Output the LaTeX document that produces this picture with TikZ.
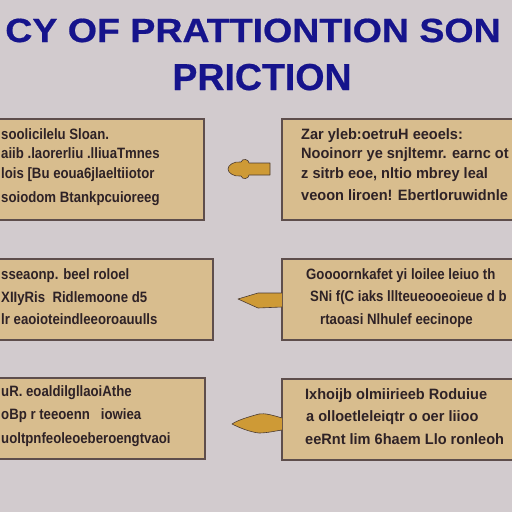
\documentclass[tikz,border=0pt]{standalone}
\usepackage{fontspec}
\setmainfont{Liberation Sans}
\newfontfamily\titlefont{Liberation Sans Bold}[FakeBold=0.6]
\newfontfamily\boxfont{Liberation Sans Bold}[FakeStretch=0.88]
\newfontfamily\boxfontw{Liberation Sans Bold}[FakeStretch=0.97]
\definecolor{bgc}{HTML}{D2CBCE}
\definecolor{titlec}{HTML}{16148C}
\definecolor{boxc}{HTML}{D8BD8E}
\definecolor{edgec}{HTML}{5E4E4C}
\definecolor{txtc}{HTML}{2E2226}
\definecolor{arrc}{HTML}{CE9A36}
\definecolor{arredge}{HTML}{4A3A30}
\tikzset{
  panel/.style={draw=edgec, line width=1.3pt, fill=boxc},
  ltxt/.style={anchor=base west, inner sep=0pt, text=txtc, font=\boxfont\fontsize{15}{16}\selectfont},
  rtxt/.style={anchor=base west, inner sep=0pt, text=txtc, font=\boxfontw\fontsize{15}{16}\selectfont},
  pointer/.style={fill=arrc, draw=arredge, line width=0.6pt, line join=round},
  ttl/.style={inner sep=0pt, text=titlec, anchor=base}
}
\begin{document}
\begin{tikzpicture}[x=1pt,y=-1pt]
\clip (0,0) rectangle (512,512);
\fill[bgc] (0,0) rectangle (512,512);
% title
\node[ttl, font=\titlefont\fontsize{33.5}{36}\selectfont] (t1) at (253,42) {\scalebox{1.12}[1]{CY OF PRATTIONTION SON}};
\node[ttl, font=\titlefont\fontsize{37.5}{40}\selectfont] (t2) at (262,90) {PRICTION};
% boxes
\draw[panel] (-5,119) rectangle (204,220) coordinate (L1);
\draw[panel] (282,119) rectangle (517,220) coordinate (R1);
\draw[panel] (-5,259) rectangle (213,340) coordinate (L2);
\draw[panel] (282,259) rectangle (517,340) coordinate (R2);
\draw[panel] (-5,378) rectangle (205,459) coordinate (L3);
\draw[panel] (282,379) rectangle (517,460) coordinate (R3);
% left box 1 text
\node[ltxt] (l1a) at (1,139) {soolicilelu Sloan.};
\node[ltxt] (l1b) at (1,158) {aiib .laorerliu .lliuaTmnes};
\node[ltxt] (l1c) at (1,178) {lois [Bu eoua6jlaeltiiotor};
\node[ltxt] (l1d) at (1,202) {soiodom Btankpcuioreeg};
% right box 1 text
\node[rtxt] (r1a) at (301,139) {Zar yleb:oetruH eeoels:};
\node[rtxt] (r1b) at (301,158) {Nooinorr ye snjltemr. earnc ot};
\node[rtxt] (r1c) at (301,178) {z sitrb eoe, nltio mbrey leal};
\node[rtxt] (r1d) at (301,200) {veoon liroen! Ebertloruwidnle};
% left box 2 text
\node[ltxt] (l2a) at (1,279) {sseaonp. beel roloel};
\node[ltxt] (l2b) at (1,302) {XIIyRis \ Ridlemoone d5};
\node[ltxt] (l2c) at (1,324) {lr eaoioteindleeoroauulls};
% right box 2 text
\node[ltxt] (r2a) at (306,279) {Goooornkafet yi loilee leiuo th};
\node[ltxt] (r2b) at (310,301) {SNi f(C iaks lllteueooeoieue d b};
\node[ltxt] (r2c) at (320,324) {rtaoasi Nlhulef eecinope};
% left box 3 text
\node[ltxt] (l3a) at (1,396) {uR. eoaldilgllaoiAthe};
\node[ltxt] (l3b) at (1,419) {oBp r teeoenn \ \ iowiea};
\node[ltxt] (l3c) at (1,443) {uoltpnfeoleoeberoengtvaoi};
% right box 3 text
\node[rtxt] (r3a) at (305,399) {Ixhoijb olmiirieeb Roduiue};
\node[rtxt] (r3b) at (306,421) {a olloetleleiqtr o oer liioo};
\node[rtxt] (r3c) at (305,444) {eeRnt lim 6haem Llo ronleoh};
% pointers
\draw[pointer] (270,163) -- (249,163) .. controls (249,159) and (242,158) .. (241,162)
  .. controls (234,161) and (228,165) .. (228,169)
  .. controls (228,173) and (234,177) .. (241,176)
  .. controls (242,180) and (249,179) .. (249,175) -- (270,175) -- cycle;
\draw[pointer] (282,293) -- (258,293) -- (238,299) -- (258,308) -- (282,307);
\draw[pointer] (282,418) .. controls (272,415) and (265,413) .. (259,414)
  .. controls (248,417) and (238,420) .. (232,424)
  .. controls (240,428) and (250,432) .. (259,433)
  .. controls (267,433) and (275,431) .. (282,430);
\end{tikzpicture}
\end{document}
